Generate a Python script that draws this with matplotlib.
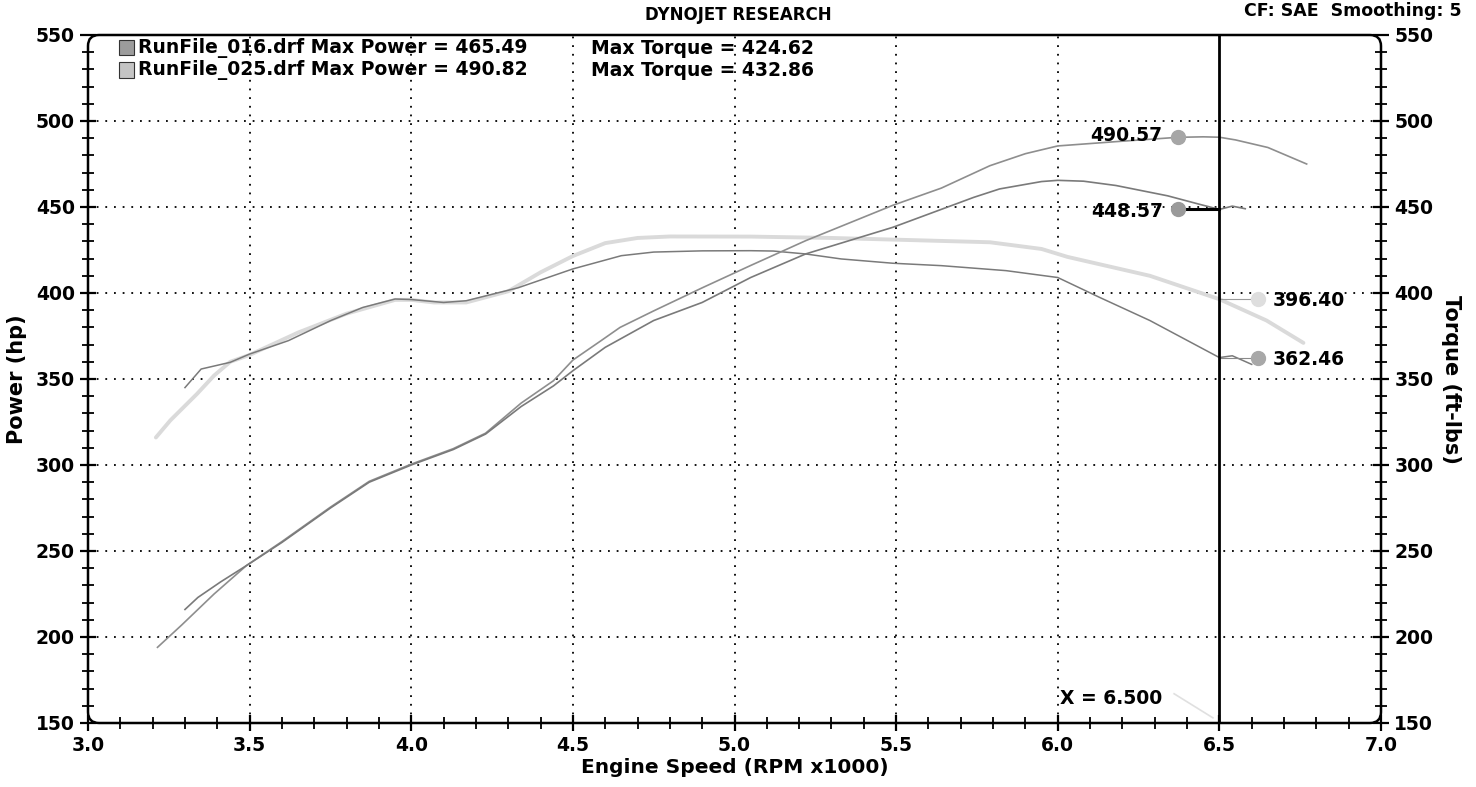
import matplotlib
matplotlib.use("Agg")
import matplotlib.pyplot as plt
from matplotlib.ticker import MultipleLocator, FixedLocator
from matplotlib.patches import Rectangle, FancyBboxPatch
from matplotlib.transforms import IdentityTransform

# ---------------- data ----------------
rpm_p016 = [3.30, 3.34, 3.41, 3.49, 3.60, 3.75, 3.87, 4.00, 4.13, 4.23, 4.34, 4.44, 4.50, 4.60,
            4.75, 4.90, 5.05, 5.22, 5.49, 5.74, 5.82, 5.95, 6.00, 6.08, 6.18, 6.34, 6.44, 6.50, 6.54, 6.58]
pow_016 = [216, 223, 232, 241.5, 255, 275, 290, 300, 309, 318, 334, 346, 354.8, 368.4,
           384, 394.5, 409, 422.7, 438.2, 455.6, 460.5, 464.8, 465.5, 465.0, 462.5, 456.5, 451.5, 448.6, 450.5, 449.0]

rpm_p025 = [3.215, 3.29, 3.39, 3.49, 3.60, 3.75, 3.87, 4.00, 4.13, 4.23, 4.34, 4.44, 4.50, 4.585, 4.646,
            4.75, 4.90, 5.05, 5.22, 5.49, 5.64, 5.79, 5.90, 6.00, 6.18, 6.37, 6.45, 6.50, 6.55, 6.65, 6.77]
pow_025 = [194, 207, 225, 241.5, 255.5, 275.5, 290.5, 300.5, 309.5, 318.5, 336, 349, 361, 372, 380,
           389.6, 403, 416, 430.4, 451, 461, 474, 481, 485.5, 488, 490.5, 490.8, 490.57, 489, 484.6, 475]

rpm_t016 = [3.30, 3.35, 3.44, 3.50, 3.62, 3.75, 3.85, 3.95, 4.00, 4.10, 4.17, 4.33, 4.50, 4.65, 4.75,
            4.90, 5.05, 5.12, 5.22, 5.33, 5.49, 5.64, 5.84, 6.00, 6.13, 6.285, 6.50, 6.54, 6.60]
trq_016 = [345, 355.8, 359.7, 364.5, 372.3, 383.9, 391.6, 396.5, 396.2, 394.5, 395.5, 403, 414, 421.7, 423.8,
           424.5, 424.6, 424.4, 422.7, 419.8, 417.3, 415.9, 413, 409, 397.4, 384, 362.46, 363.5, 358.5]

rpm_t025 = [3.21, 3.255, 3.337, 3.39, 3.44, 3.50, 3.65, 3.80, 3.95, 4.00, 4.07, 4.17, 4.30, 4.40, 4.50,
            4.60, 4.70, 4.80, 5.05, 5.30, 5.50, 5.79, 5.95, 6.03, 6.285, 6.50, 6.646, 6.76]
trq_025 = [316, 326, 341.3, 352, 360, 364, 377, 388, 396, 396, 394.5, 394.5, 401, 412, 421.5,
           429, 432, 432.86, 432.8, 432, 431, 429.5, 425.6, 421, 410, 396.4, 384, 371]

runs = ["RunFile_016.drf", "RunFile_025.drf"]
max_power = ["465.49", "490.82"]
max_torque = ["424.62", "432.86"]

cursor_x = 6.5
cursor_pow = [448.57, 490.57]
cursor_trq = [362.46, 396.40]

# ---------------- figure ----------------
plt.rcParams['font.family'] = ['DejaVu Sans']
plt.rcParams['font.weight'] = 'bold'

fig = plt.figure(figsize=(14.76, 7.87), dpi=100)
L, R, T, B = 88, 1381, 35, 723
ax = fig.add_axes([L/1476, 1-B/787, (R-L)/1476, (B-T)/787])
ax2 = ax.twinx()

ax.set_xlim(3.0, 7.0)
ax.set_ylim(150, 550)
ax2.set_ylim(150, 550)

dark = '#7a7a7a'
mid = '#8e8e8e'
light = '#dadada'

# torque 025 (light wide)
ax.plot(rpm_t025, trq_025, color=light, lw=2.8, solid_capstyle='round', zorder=3)
# torque 016
ax.plot(rpm_t016, trq_016, color=dark, lw=1.1, zorder=4)
# power
ax.plot(rpm_p025, pow_025, color=mid, lw=1.2, zorder=4)
ax.plot(rpm_p016, pow_016, color=dark, lw=1.2, zorder=4)

# grid
gs = dict(color='black', lw=1.3, linestyle=(0, (1, 3.8)), zorder=1)
for xv in [3.5, 4.0, 4.5, 5.0, 5.5, 6.0]:
    ax.axvline(xv, **gs)
for yv in [200, 250, 300, 350, 400, 450, 500]:
    ax.axhline(yv, **gs)

# cursor
ax.axvline(cursor_x, color='black', lw=2, zorder=6)

# markers and labels
ax.plot([6.372, cursor_x], [cursor_pow[0], cursor_pow[0]], color='black', lw=2.2, zorder=5)
ax.plot([6.372], [cursor_pow[1]], 'o', ms=10, color='#a6a6a6', zorder=7)
ax.plot([6.372], [cursor_pow[0]], 'o', ms=10, color='#9a9a9a', zorder=7)
ax.plot([cursor_x, 6.619], [cursor_trq[1], cursor_trq[1]], color='#9a9a9a', lw=0.8, zorder=5)
ax.plot([cursor_x, 6.619], [cursor_trq[0], cursor_trq[0]], color='#8a8a8a', lw=0.8, zorder=5)
ax.plot([6.619], [cursor_trq[1]], 'o', ms=10, color='#dedede', zorder=7)
ax.plot([6.619], [cursor_trq[0]], 'o', ms=10, color='#a8a8a8', zorder=7)

lab = dict(fontsize=13.5, fontweight='bold', va='center', zorder=8)
ax.text(6.325, cursor_pow[1] + 1, f"{cursor_pow[1]:.2f}", ha='right', **lab)
ax.text(6.325, cursor_pow[0] - 1, f"{cursor_pow[0]:.2f}", ha='right', **lab)
ax.text(6.665, cursor_trq[1] - 1, f"{cursor_trq[1]:.2f}", ha='left', **lab)
ax.text(6.665, cursor_trq[0] - 1, f"{cursor_trq[0]:.2f}", ha='left', **lab)

ax.text(6.165, 164, f"X = {cursor_x:.3f}", ha='center', **lab)
ax.plot([6.36, 6.48], [167, 153], color='#e0e0e0', lw=1.2, zorder=2)

# legend text
for i, (r, mp, mt) in enumerate(zip(runs, max_power, max_torque)):
    ypx = 48 + i * 22
    yf = 1 - ypx / 787
    fig.patches.append(Rectangle((119/1476, yf - 7.5/787), 15/1476, 15/787, transform=fig.transFigure,
                                 facecolor=['#9c9c9c', '#c4c4c4'][i], edgecolor='#333333', lw=0.8, zorder=9))
    fig.text(138/1476, yf, f"{r} Max Power = {mp}", fontsize=13.5, fontweight='bold', va='center')
    fig.text(591/1476, yf, f"Max Torque = {mt}", fontsize=13.5, fontweight='bold', va='center')

# ticks
ax.xaxis.set_major_locator(FixedLocator([3.0, 3.5, 4.0, 4.5, 5.0, 5.5, 6.0, 6.5, 7.0]))
ax.xaxis.set_minor_locator(MultipleLocator(0.1))
ax.set_xticklabels(["3.0", "3.5", "4.0", "4.5", "5.0", "5.5", "6.0", "6.5", "7.0"])
for a in (ax, ax2):
    a.yaxis.set_major_locator(MultipleLocator(50))
    a.yaxis.set_minor_locator(MultipleLocator(10))
    a.tick_params(which='major', direction='inout', length=11, width=1.6, labelsize=13.5)
    a.tick_params(which='minor', direction='inout', length=8, width=1.3)
ax.tick_params(axis='x', which='major', pad=4)
ax.tick_params(axis='y', which='major', pad=4)
ax2.tick_params(axis='y', which='major', pad=4)
for t in ax.get_xticklabels() + ax.get_yticklabels() + ax2.get_yticklabels():
    t.set_fontweight('bold')

# rounded frame instead of spines
for a in (ax, ax2):
    for s in a.spines.values():
        s.set_visible(False)
frame = FancyBboxPatch((L, 787 - B), R - L, B - T, boxstyle="round,pad=0,rounding_size=11",
                       transform=IdentityTransform(), facecolor='none', edgecolor='black', lw=1.8, zorder=10)
fig.patches.append(frame)

ax.set_xlabel("Engine Speed (RPM x1000)", fontsize=14.5, fontweight='bold', labelpad=2)
ax.set_ylabel("Power (hp)", fontsize=15, fontweight='bold', labelpad=6)
ax2.set_ylabel("Torque (ft-lbs)", fontsize=15, fontweight='bold', rotation=270, labelpad=20)

fig.text(738/1476, 1 - 15/787, "DYNOJET RESEARCH", fontsize=12, fontweight='bold', ha='center', va='center')
fig.text(1462/1476, 1 - 11/787, "CF: SAE  Smoothing: 5", fontsize=12.5, fontweight='bold', ha='right', va='center')

fig.savefig("out.png", dpi=100)
